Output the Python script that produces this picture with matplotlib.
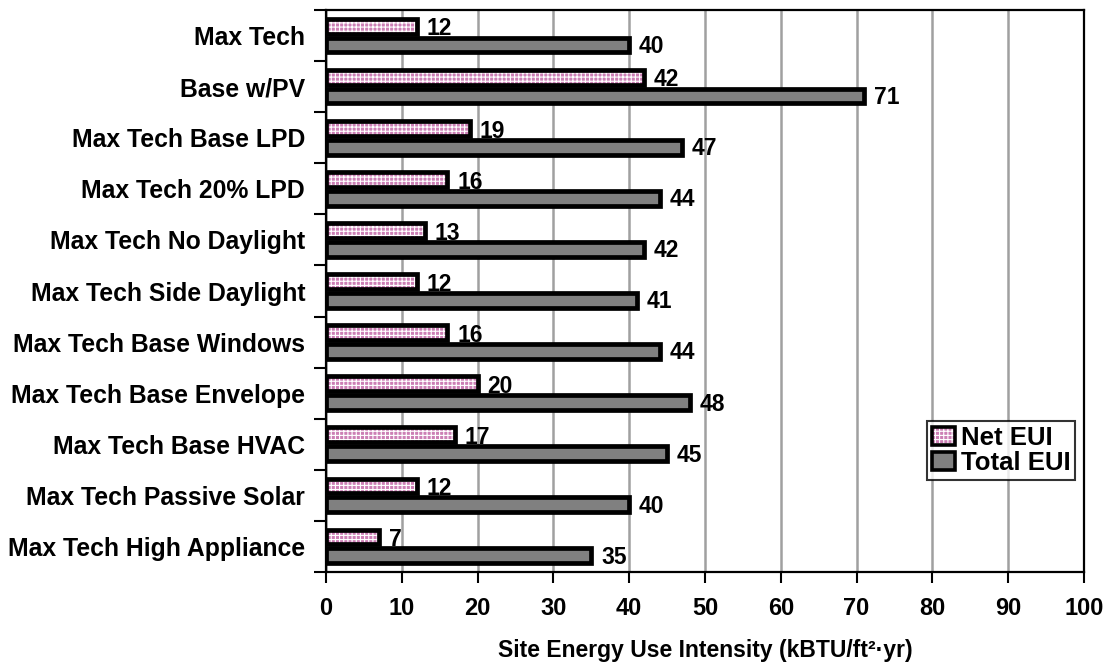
import numpy as np
import matplotlib
matplotlib.use("Agg")
import matplotlib.pyplot as plt
from matplotlib.patches import Patch
from matplotlib.legend_handler import HandlerTuple

CATEGORIES = [
    "Max Tech",
    "Base w/PV",
    "Max Tech Base LPD",
    "Max Tech 20% LPD",
    "Max Tech No Daylight",
    "Max Tech Side Daylight",
    "Max Tech Base Windows",
    "Max Tech Base Envelope",
    "Max Tech Base HVAC",
    "Max Tech Passive Solar",
    "Max Tech High Appliance",
]
NET_EUI = [12, 42, 19, 16, 13, 12, 16, 20, 17, 12, 7]
TOTAL_EUI = [40, 71, 47, 44, 42, 41, 44, 48, 45, 40, 35]
X_TICKS = [0, 10, 20, 30, 40, 50, 60, 70, 80, 90, 100]

PINK = "#cc7fb5"
GRAY = "#808080"

plt.rcParams.update({
    "font.family": ["Liberation Sans", "DejaVu Sans"],
    "font.weight": "bold",
    "hatch.linewidth": 0.8,
})

fig = plt.figure(figsize=(11.09, 6.66), dpi=100)
ax = fig.add_axes([326 / 1109, 1 - 572 / 666, (1084 - 326) / 1109, (572 - 10) / 666])

n = len(CATEGORIES)
y = np.arange(n)
off = 0.185
h = 0.29
lw = 3.4

# net bars: pink fill with white grid pattern, black outline on top
ax.barh(y - off, NET_EUI, height=h, color=PINK, edgecolor="white",
        hatch="++++", linewidth=0, zorder=3)
ax.barh(y - off, NET_EUI, height=h, facecolor="none", edgecolor="black",
        linewidth=lw, zorder=4)
ax.barh(y + off, TOTAL_EUI, height=h, color=GRAY, edgecolor="black",
        linewidth=lw, zorder=3)

for yi, v in zip(y, NET_EUI):
    ax.annotate(f"{v}", (v, yi - off), xytext=(7, -2), textcoords="offset points",
                va="center", ha="left", fontsize=16.5, fontweight="bold")
for yi, v in zip(y, TOTAL_EUI):
    ax.annotate(f"{v}", (v, yi + off), xytext=(7, -1), textcoords="offset points",
                va="center", ha="left", fontsize=16.5, fontweight="bold")

ax.set_xlim(0, 100)
ax.set_ylim(n - 0.5, -0.5)
ax.set_xticks(X_TICKS)
ax.set_xticklabels([str(t) for t in X_TICKS], fontsize=17, fontweight="bold")
ax.tick_params(axis="x", length=8, width=1.5, pad=10)

# category boundary ticks (major), labels at centers (minor)
ax.set_yticks(np.arange(n + 1) - 0.5)
ax.set_yticklabels([])
ax.tick_params(axis="y", which="major", length=9, width=1.5)
ax.set_yticks(y, minor=True)
ax.set_yticklabels(CATEGORIES, minor=True, fontsize=17.8, fontweight="bold")
ax.tick_params(axis="y", which="minor", length=0, pad=15)

ax.xaxis.grid(True, color="#a0a0a0", linewidth=1.8, zorder=0)
ax.set_axisbelow(True)
for s in ax.spines.values():
    s.set_color("black")
    s.set_linewidth(1.6)

ax.set_xlabel("Site Energy Use Intensity (kBTU/ft²·yr)", fontsize=16.5,
              fontweight="bold", labelpad=14)

net_handle = (Patch(facecolor=PINK, edgecolor="white", hatch="++++", linewidth=0),
              Patch(facecolor="none", edgecolor="black", linewidth=2.6))
tot_handle = Patch(facecolor=GRAY, edgecolor="black", linewidth=2.6)
leg = fig.legend([net_handle, tot_handle], ["Net EUI", "Total EUI"],
                 handler_map={tuple: HandlerTuple(ndivide=1)},
                 loc="upper left", bbox_to_anchor=(927 / 1109, 1 - 421 / 666),
                 frameon=True, fancybox=False, edgecolor="black",
                 prop={"size": 18.5, "weight": "bold"},
                 handlelength=0.9, handleheight=0.7, handletextpad=0.25,
                 borderpad=0.18, borderaxespad=0, labelspacing=0.05)
leg.get_frame().set_linewidth(1.5)

fig.savefig("out.png", dpi=100)
